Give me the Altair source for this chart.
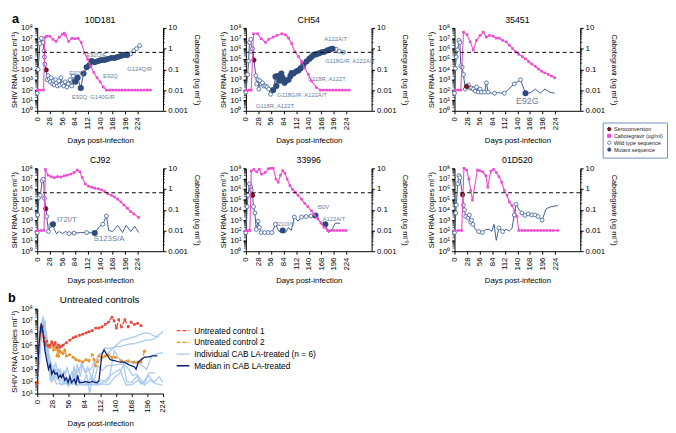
import altair as alt
import pandas as pd

FONT = "Liberation Sans"
MAG = "#ec4bd0"
NAVY_LINE = "#3f5d8e"
WT_STROKE = "#4a6aa5"
MUT_FILL = "#2f4a7c"
SERO = "#8c1515"
ANN_COL = "#6b7f9c"

# ---------------- panel a data (log10 copies/ml, log10 ug/ml) ----------------
XT_A = [0, 28, 56, 84, 112, 140, 168, 196, 224]
THRESH = [0.664]
MINOR_MULT = [2, 3, 4, 5, 6, 7, 8, 9]

D_10D181 = [0, 2, 6, 9, 13, 15, 16, 17, 20, 22, 24, 27, 29, 31, 34, 36, 38, 41, 43, 45, 48, 50, 53, 56, 59,
            62, 66, 69, 73, 77, 80, 85, 90, 97, 103, 110, 116, 121, 128, 136, 143, 150, 157, 165, 172, 179,
            186, 193, 200, 208, 215, 221, 228]
L_10D181 = [1.7, 4.0, 6.5, 7.0, 6.6, 5.8, 5.2, 4.5, 3.95, 3.0, 3.4, 3.1, 2.8, 3.2, 2.6, 2.9, 2.5, 3.0, 2.7,
            2.4, 2.9, 2.5, 3.2, 2.6, 2.4, 2.8, 2.3, 2.6, 3.0, 2.4, 3.35, 2.8, 3.2, 2.2, 3.6, 4.2, 4.4, 4.8,
            4.7, 4.8, 4.9, 4.9, 5.0, 5.1, 5.1, 5.2, 5.3, 5.4, 5.4, 5.5, 5.8, 6.0, 6.3]
M_10D181 = "oooooooo" + "s" + "oooooooooooooooooooooo" + "mmmmmmmmmmmmmmmmmm" + "oooo"
CD_10D181 = [0, 7, 14, 17, 21, 28, 35, 42, 49, 56, 60, 63, 70, 77, 84, 91, 98, 105, 112, 119, 126, 133,
             140, 147, 154, 161, 168, 175, 182, 189, 196, 203, 210, 217, 224, 231, 238, 245, 252]
CL_10D181 = [-2, -2, -2, 0.55, 0.6, 0.6, 0.45, 0.35, 0.55, 0.7, 0.75, 0.65, 0.35, 0.5, 0.48, 0.5, 0.3,
             -0.2, -0.5, -0.85, -1.15, -1.4, -1.6, -1.85, -2, -2, -2, -2, -2, -2, -2, -2, -2, -2, -2, -2,
             -2, -2, -2]
AT_10D181 = ["E92Q/E", "E92Q", "E92Q", "E92Q, G140G/R", "G124Q/R"]
AD_10D181 = [132, 88, 163, 125, 228]
AL_10D181 = [5.35, 3.6, 3.4, 1.35, 4.0]

D_CH54 = [0, 4, 6, 8, 11, 13, 15, 18, 22, 24, 27, 29, 31, 34, 37, 40, 44, 47, 51, 55, 61, 66, 68, 71, 75,
          79, 82, 86, 90, 95, 99, 102, 106, 112, 117, 122, 128, 135, 141, 146, 151, 157, 163, 169, 175,
          182, 188, 193, 201, 208, 217]
L_CH54 = [1.8, 3.5, 4.8, 6.6, 6.9, 5.7, 6.0, 4.9, 3.4, 2.6, 3.0, 2.1, 2.9, 2.6, 2.7, 2.4, 2.4, 2.3, 2.1,
          1.6, 2.0, 3.3, 2.4, 3.35, 2.9, 3.6, 3.2, 2.7, 2.9, 3.0, 3.35, 3.65, 3.6, 3.8, 3.9, 4.1, 4.45,
          4.75, 5.0, 5.2, 5.4, 5.45, 5.55, 5.65, 5.7, 5.85, 5.95, 6.0, 5.95, 5.75, 5.65]
M_CH54 = "ooooooo" + "s" + "oooooooooooo" + "mmmmmmmmmmmmmmmmmmmmmmmmmmmm" + "ooo"
CD_CH54 = [0, 7, 12, 17, 26, 34, 44, 51, 61, 69, 80, 88, 95, 102, 109, 117, 124, 131, 139, 146, 157, 166,
           173, 180, 187, 194, 201, 208, 215, 222, 230]
CL_CH54 = [-2, -2, -2, 0.72, 0.72, 0.48, 0.3, 0.45, 0.56, 0.64, 0.72, 0.67, 0.51, 0.25, -0.15, -0.38,
           -0.62, -0.93, -1.24, -1.56, -1.87, -2, -2, -2, -2, -2, -2, -2, -2, -2, -2]
AT_CH54 = ["A122A/T", "G118G/R, A122A/T", "G118R, A122T", "G118G/R, A122A/T", "G118R, A122T"]
AD_CH54 = [200, 232, 180, 125, 65]
AL_CH54 = [6.9, 4.8, 3.1, 1.5, 0.45]

D_35451 = [0, 2, 4, 7, 10, 12, 14, 17, 20, 24, 27, 31, 35, 38, 42, 46, 49, 53, 57, 60, 67, 71, 75, 82,
           89, 96, 111, 133, 147, 158, 169, 180, 191, 201, 212, 223]
L_35451 = [1.7, 4.1, 5.2, 5.9, 6.8, 6.6, 4.35, 4.2, 3.5, 2.1, 2.35, 2.5, 2.2, 2.2, 2.1, 1.9, 2.3, 1.8,
           2.1, 1.8, 1.8, 2.7, 1.8, 1.7, 1.7, 1.75, 1.7, 2.6, 3.0, 1.7, 1.75, 2.1, 1.7, 2.1, 1.8, 1.7]
M_35451 = "oooooooooo" + "s" + "oooooooooooo" + "-o-ooom" + "------"
CD_35451 = [0, 7, 14, 20, 28, 35, 42, 49, 57, 64, 71, 78, 86, 93, 100, 107, 115, 122, 129, 136, 143, 151,
            158, 165, 172, 180, 187, 194, 201, 209, 216, 223]
CL_35451 = [-2, -2, -2, 0.8, 0.67, 0.33, -0.07, 0.4, 0.64, 0.8, 0.56, 0.64, 0.6, 0.51, 0.51, 0.4, 0.33,
            0.17, 0.01, -0.15, -0.27, -0.38, -0.49, -0.62, -0.74, -0.85, -0.98, -1.09, -1.17, -1.24,
            -1.32, -1.4]
AT_35451 = ["E92G"]
AD_35451 = [162]
AL_35451 = [0.95]

D_CJ92 = [0, 1, 4, 7, 11, 14, 16, 19, 21, 25, 30, 35, 38, 43, 49, 56, 63, 71, 82, 96, 110, 128, 139, 146,
          154, 159, 168, 179, 190, 198, 208, 217, 226]
L_CJ92 = [1.8, 3.5, 5.2, 5.4, 6.8, 6.95, 5.1, 4.1, 3.35, 1.9, 2.5, 2.6, 2.1, 1.7, 1.9, 1.7, 1.9, 1.7,
          1.75, 1.8, 1.8, 1.75, 2.4, 2.6, 3.4, 2.0, 1.9, 2.5, 1.8, 2.5, 1.9, 2.4, 1.8]
M_CJ92 = "ooooooo" + "s" + "ooo" + "m" + "-----" + "oo-om-oo" + "--------"
CD_CJ92 = [0, 9, 15, 18, 24, 31, 38, 45, 53, 60, 67, 74, 82, 89, 95, 100, 107, 114, 121, 128, 136, 143,
           150, 157, 165, 172, 179, 186, 193, 201, 208, 215, 226]
CL_CJ92 = [-2, -2, -2, 0.95, 0.67, 0.6, 0.55, 0.6, 0.58, 0.64, 0.67, 0.72, 0.8, 0.92, 0.83, 0.56, 0.25,
           0.14, 0.09, 0.04, 0.01, -0.04, -0.11, -0.22, -0.3, -0.38, -0.49, -0.62, -0.77, -0.93, -1.09,
           -1.2, -1.37]
AT_CJ92 = ["I72I/T", "S123S/A"]
AD_CJ92 = [66, 160]
AL_CJ92 = [3.0, 1.2]

D_33996 = [0, 3, 5, 8, 11, 12, 15, 17, 20, 23, 27, 30, 34, 42, 50, 58, 66, 74, 82, 88, 95, 101, 108,
           116, 124, 134, 145, 155, 163, 170, 177, 184, 192, 199, 210]
L_33996 = [1.8, 4.3, 5.4, 6.5, 6.2, 5.9, 5.4, 4.3, 3.7, 2.1, 2.9, 2.3, 1.8, 1.8, 1.8, 1.8, 2.6, 1.9, 2.0,
           1.8, 2.3, 2.0, 3.3, 2.9, 3.3, 3.35, 3.4, 3.45, 3.0, 2.5, 2.6, 1.8, 2.1, 2.7, 2.7]
M_33996 = "oooooo" + "s" + "oooooooooo" + "-m---o-ooom--m" + "----"
CD_33996 = [0, 5, 9, 12, 18, 24, 30, 35, 43, 50, 55, 61, 67, 72, 77, 82, 87, 92, 98, 104, 110, 116, 124,
            131, 138, 146, 152, 160, 167, 174, 182, 189, 196, 203, 210, 217, 223]
CL_33996 = [-2, -2, -2, 0.87, 0.95, 0.83, 0.95, 0.72, 0.8, 0.98, 1.0, 1.0, 0.48, 0.33, 0.67, 0.89, 0.76,
            0.48, 0.17, -0.02, -0.15, -0.3, -0.49, -0.69, -0.85, -1.05, -1.24, -1.43, -1.64, -1.84, -2,
            -2, -2, -2, -2, -2, -2]
AT_33996 = ["I210I/V", "I50V", "A122A/T"]
AD_33996 = [88, 172, 196]
AL_33996 = [2.6, 4.3, 3.1]

D_01D520 = [0, 3, 4, 7, 10, 12, 18, 20, 22, 25, 30, 33, 36, 38, 41, 45, 49, 54, 62, 70, 78, 83, 88, 93,
            99, 107, 115, 122, 128, 133, 137, 144, 150, 157, 164, 172, 179, 186, 195, 204, 215, 230]
L_01D520 = [1.8, 3.7, 4.45, 6.5, 7.3, 7.1, 5.45, 4.45, 4.0, 3.35, 3.2, 3.5, 2.8, 3.0, 2.6, 2.25, 2.0,
            1.9, 1.8, 2.1, 2.1, 1.9, 2.6, 1.05, 2.25, 1.9, 2.1, 1.95, 2.2, 3.5, 4.55, 4.0, 3.7, 3.45,
            3.6, 3.5, 3.5, 3.35, 3.0, 4.1, 4.3, 4.4]
M_01D520 = "oooooo" + "s" + "oooooooo" + "--oo-----oo---oo-ooooooo" + "---"
CD_01D520 = [0, 9, 16, 21, 27, 32, 36, 40, 51, 56, 63, 70, 74, 81, 87, 93, 99, 105, 111, 117, 122, 128,
             134, 139, 143, 150, 157, 164, 171, 178, 185, 192, 199, 206, 213, 220, 230]
CL_01D520 = [-2, -2, -2, 1.0, 0.92, 0.48, -0.07, -0.54, 0.92, 0.89, 0.83, 0.64, 0.09, 0.87, 0.95, 0.8,
             0.6, 0.33, -0.07, -0.3, -0.62, -0.8, -1.05, -1.32, -2, -2, -2, -2, -2, -2, -2, -2, -2, -2,
             -2, -2, -2]

LEG_A = ["Seroconversion", "Cabotegravir (ug/ml)", "Wild type sequence", "Mutant sequence"]
LEG_A_FILL = [SERO, MAG, "white", MUT_FILL]
LEG_A_STROKE = ["#2a0505", MAG, WT_STROKE, MUT_FILL]
LEG_A_SHAPE = ["circle", "square", "circle", "circle"]

# ---------------- panel b data ----------------
XT_B = [0, 28, 56, 84, 112, 140, 168, 196, 224]
BR_D = [0, 3, 6, 9, 12, 14, 17, 20, 23, 26, 29, 32, 35, 38, 40, 43, 46, 52, 58, 64, 69, 75, 81, 87, 92,
        98, 104, 110, 115, 121, 127, 133, 137, 141, 145, 150, 156, 162, 167, 173, 179, 185]
BR_L = [1.85, 5.0, 6.1, 6.5, 5.6, 5.0, 5.3, 4.9, 5.0, 5.2, 5.0, 5.2, 4.8, 5.0, 4.8, 4.9, 5.0, 5.2, 5.4,
        5.6, 5.7, 5.8, 5.9, 6.0, 6.1, 6.2, 6.4, 6.4, 6.5, 6.7, 6.9, 7.3, 7.0, 6.4, 7.1, 6.5, 7.1, 6.5,
        6.9, 6.7, 6.8, 6.6]
BO_D = [0, 1, 6, 9, 12, 15, 20, 23, 26, 29, 32, 35, 37, 38, 40, 43, 46, 49, 52, 58, 64, 69, 75, 81, 87,
        92, 98, 101, 104, 107, 110, 115, 121, 127, 133, 139, 150, 162, 173, 179, 185, 191]
BO_L = [2.0, 3.5, 6.4, 6.1, 5.3, 5.0, 5.0, 4.8, 5.3, 4.6, 5.0, 4.1, 4.6, 4.1, 4.5, 4.4, 4.3, 4.6, 4.1,
        4.2, 4.0, 3.8, 3.7, 3.6, 3.8, 3.7, 4.2, 3.8, 3.3, 3.6, 4.1, 4.0, 4.1, 4.2, 4.0, 4.0, 3.7, 3.7,
        3.6, 3.6, 3.6, 4.5]
BM_D = [0, 3, 7, 10, 14, 17, 20, 23, 26, 29, 32, 35, 38, 41, 43, 46, 49, 52, 55, 58, 61, 66, 69, 72, 75,
        81, 87, 92, 98, 104, 107, 110, 115, 119, 124, 130, 139, 147, 156, 162, 167, 173, 176, 180, 185,
        191, 196, 205, 214]
BM_L = [1.8, 5.0, 6.8, 6.1, 4.5, 3.7, 3.0, 3.4, 2.6, 2.9, 2.6, 2.7, 2.3, 2.5, 2.3, 2.6, 2.1, 2.3, 1.9,
        2.4, 1.9, 2.2, 1.8, 2.5, 1.9, 1.9, 2.0, 1.9, 2.0, 1.9, 1.9, 2.1, 4.2, 4.6, 4.2, 3.8, 3.7, 3.6,
        3.6, 3.4, 3.3, 3.2, 3.0, 3.6, 3.8, 4.0, 4.0, 4.1, 4.1]
LEG_B = ["Untreated control 1", "Untreated control 2", "Individual CAB LA-treated (n = 6)",
         "Median in CAB LA-treated"]
LEG_B_COL = ["#e8463f", "#e8932b", "#a9c9ee", "#0b1f72"]

# ---------------- helpers ----------------
SUP = "['\u2070','\u00b9','\u00b2','\u00b3','\u2074','\u2075','\u2076','\u2077','\u2078']"
LABEL_EXPR = "'10' + " + SUP + "[round(log(datum.value) / LN10)]"
W, H = 129, 85


def minor_values(lo_exp, hi_exp):
    return [m * 10.0 ** k for k in range(lo_exp, hi_exp) for m in MINOR_MULT]


def x_enc(dmax, values):
    return alt.X("day:Q", scale=alt.Scale(domain=[0, dmax], nice=False, zero=False),
                 axis=alt.Axis(values=values, labelAngle=-90, title="Days post-infection",
                               titleFontSize=8, labelFontSize=8, tickSize=3, labelPadding=3,
                               titlePadding=7))


XA = x_enc(280, XT_A)
YV = alt.Y("v:Q", scale=alt.Scale(type="log", domain=[1, 1e8], nice=False),
           axis=alt.Axis(orient="left", values=[10 ** i for i in range(9)], labelExpr=LABEL_EXPR,
                         title="SHIV RNA (copies ml\u207b\u00b9)", titleFontSize=7.5, labelFontSize=8,
                         tickSize=3, labelPadding=2, titlePadding=2))
YC = alt.Y("c:Q", scale=alt.Scale(type="log", domain=[0.001, 10], nice=False),
           axis=alt.Axis(orient="right", values=[0.001, 0.01, 0.1, 1, 10], format="~g",
                         title="Cabotegravir (ug ml\u207b\u00b9)", titleFontSize=7.5, labelFontSize=8,
                         tickSize=3, labelPadding=2, titlePadding=5))


def text_layer(txt, size, x, y, bold=False, align="center", baseline="middle"):
    return alt.Chart(pd.DataFrame({"t": [txt]})).mark_text(
        fontSize=size, fontWeight="bold" if bold else "normal", font=FONT, align=align,
        baseline=baseline, color="black").encode(text="t:N", x=alt.value(x), y=alt.value(y))


def minor_ticks(field, vals, yenc, x0, x1):
    return alt.Chart(pd.DataFrame({field: vals})).mark_rule(color="black", strokeWidth=0.7).encode(
        x=alt.value(x0), x2=alt.value(x1), y=yenc)


def panel(name, d, lv, mk, cd, cl, at=None, ad=None, al=None, ann_size=6, legend=False, tag=None):
    vdf = pd.DataFrame({"day": d, "v": [10 ** x for x in lv], "mk": list(mk)})
    cdf = pd.DataFrame({"day": cd, "c": [10 ** x for x in cl]})
    base = alt.Chart(vdf)
    vl = [
        minor_ticks("v", minor_values(0, 8), YV, -2, 0),
        base.mark_line(color=NAVY_LINE, strokeWidth=1).encode(x=XA, y=YV),
        base.transform_filter("datum.mk == 'o'").mark_point(
            shape="circle", filled=True, fill="white", stroke=WT_STROKE, strokeWidth=0.9, size=16,
            opacity=1).encode(x=XA, y=YV),
        base.transform_filter("datum.mk == 'm'").mark_point(
            shape="circle", filled=True, fill=MUT_FILL, stroke=MUT_FILL, size=18, opacity=1
        ).encode(x=XA, y=YV),
        base.transform_filter("datum.mk == 's'").mark_point(
            shape="circle", filled=True, fill=SERO, stroke="#2a0505", strokeWidth=0.6, size=20,
            opacity=1).encode(x=XA, y=YV),
        text_layer(name, 9, W / 2, -8),
    ]
    if at:
        adf = pd.DataFrame({"t": at, "day": ad, "v": [10 ** x for x in al]})
        vl.append(alt.Chart(adf).mark_text(fontSize=ann_size, color=ANN_COL, font=FONT).encode(
            x=XA, y=YV, text="t:N"))
    if legend:
        ldf = pd.DataFrame({"kind": LEG_A, "day": [None] * 4, "v": [None] * 4})
        lg = alt.Legend(orient="none", legendX=152, legendY=97, title=None, labelFontSize=5.5,
                        labelFont=FONT, symbolSize=12, rowPadding=-1, padding=4,
                        strokeColor="#6f8fbf", fillColor="white", symbolStrokeWidth=0.8,
                        labelOffset=2, labelColor="#222222")
        vl.append(alt.Chart(ldf).mark_point(filled=True, opacity=1, size=14).encode(
            x=XA, y=YV,
            fill=alt.Fill("kind:N", scale=alt.Scale(domain=LEG_A, range=LEG_A_FILL), legend=lg),
            stroke=alt.Stroke("kind:N", scale=alt.Scale(domain=LEG_A, range=LEG_A_STROKE), legend=lg),
            shape=alt.Shape("kind:N", scale=alt.Scale(domain=LEG_A, range=LEG_A_SHAPE), legend=lg)))
    if tag:
        vl.append(text_layer(tag, 13, -26, -15, bold=True, align="left", baseline="top"))
    cbase = alt.Chart(cdf)
    cb = [
        minor_ticks("c", minor_values(-3, 1), YC, W, W + 2),
        cbase.mark_line(color=MAG, strokeWidth=1.1).encode(x=XA, y=YC),
        cbase.mark_square(color=MAG, size=7, opacity=1).encode(x=XA, y=YC),
        alt.Chart(pd.DataFrame({"c": THRESH})).mark_rule(
            color="black", strokeDash=[4, 3], strokeWidth=1).encode(y=YC),
    ]
    return alt.layer(alt.layer(*vl), alt.layer(*cb)).resolve_scale(y="independent").properties(
        width=W, height=H)


p1 = panel("10D181", D_10D181, L_10D181, M_10D181, CD_10D181, CL_10D181,
           AT_10D181, AD_10D181, AL_10D181, tag="a")
p2 = panel("CH54", D_CH54, L_CH54, M_CH54, CD_CH54, CL_CH54, AT_CH54, AD_CH54, AL_CH54)
p3 = panel("35451", D_35451, L_35451, M_35451, CD_35451, CL_35451, AT_35451, AD_35451, AL_35451,
           ann_size=9, legend=True)
p4 = panel("CJ92", D_CJ92, L_CJ92, M_CJ92, CD_CJ92, CL_CJ92, AT_CJ92, AD_CJ92, AL_CJ92, ann_size=8)
p5 = panel("33996", D_33996, L_33996, M_33996, CD_33996, CL_33996, AT_33996, AD_33996, AL_33996)
p6 = panel("01D520", D_01D520, L_01D520, M_01D520, CD_01D520, CL_01D520)

# ---------------- panel b ----------------
XB = x_enc(224, XT_B)
YB = alt.Y("v:Q", scale=alt.Scale(type="log", domain=[10, 1e8], nice=False),
           axis=alt.Axis(values=[10 ** i for i in range(1, 9)], labelExpr=LABEL_EXPR,
                         title="SHIV RNA (copies ml\u207b\u00b9)", titleFontSize=8, labelFontSize=8,
                         tickSize=3, labelPadding=2, titlePadding=2))
LEGB = alt.Legend(orient="none", legendX=142, legendY=15, title=None, symbolType="stroke",
                  symbolSize=169, labelFontSize=8.5, labelFont=FONT, rowPadding=0, labelLimit=300,
                  labelOffset=4)
COLB = alt.Color("series:N", scale=alt.Scale(domain=LEG_B, range=LEG_B_COL), legend=LEGB)
DASHB = alt.StrokeDash("series:N", scale=alt.Scale(domain=LEG_B, range=[[4, 2], [4, 2], [1, 0], [1, 0]]),
                       legend=LEGB)
WIDB = alt.StrokeWidth("series:N", scale=alt.Scale(domain=LEG_B, range=[1.3, 1.3, 0.8, 2.6]),
                       legend=LEGB)

ind_frames = []
for aid, d, lv in [("10D181", D_10D181, L_10D181), ("CH54", D_CH54, L_CH54),
                   ("35451", D_35451, L_35451), ("CJ92", D_CJ92, L_CJ92),
                   ("33996", D_33996, L_33996), ("01D520", D_01D520, L_01D520)]:
    ind_frames.append(pd.DataFrame({"day": d, "v": [10 ** x for x in lv], "id": aid, "series": LEG_B[2]}))
ind_df = pd.concat(ind_frames, ignore_index=True)
c1_df = pd.DataFrame({"day": BR_D, "v": [10 ** x for x in BR_L], "series": LEG_B[0]})
c2_df = pd.DataFrame({"day": BO_D, "v": [10 ** x for x in BO_L], "series": LEG_B[1]})
md_df = pd.DataFrame({"day": BM_D, "v": [10 ** x for x in BM_L], "series": LEG_B[3]})

pb_layers = [
    minor_ticks("v", minor_values(1, 8), YB, -2, 0),
    alt.Chart(ind_df).mark_line(clip=True).encode(x=XB, y=YB, color=COLB, strokeDash=DASHB,
                                                  strokeWidth=WIDB, detail="id:N"),
    alt.Chart(c2_df).mark_line(clip=True).encode(x=XB, y=YB, color=COLB, strokeDash=DASHB,
                                                 strokeWidth=WIDB),
    alt.Chart(c2_df).mark_point(shape="circle", filled=True, color=LEG_B_COL[1], size=10,
                                opacity=1).encode(x=XB, y=YB),
    alt.Chart(c1_df).mark_line(clip=True).encode(x=XB, y=YB, color=COLB, strokeDash=DASHB,
                                                 strokeWidth=WIDB),
    alt.Chart(c1_df).mark_point(shape="square", filled=True, color=LEG_B_COL[0], size=7,
                                opacity=1).encode(x=XB, y=YB),
    alt.Chart(md_df).mark_line(clip=True).encode(x=XB, y=YB, color=COLB, strokeDash=DASHB,
                                                 strokeWidth=WIDB),
    text_layer("b", 13, -30, -17, bold=True, align="left", baseline="top"),
    text_layer("Untreated controls", 10, 64, -9),
]
pb = alt.layer(*pb_layers).properties(width=129, height=87)

IND = dict(color="independent", fill="independent", stroke="independent", shape="independent",
           strokeDash="independent", strokeWidth="independent")
chart = alt.concat(p1, p2, p3, p4, p5, p6, pb, columns=3, spacing={"row": 59, "column": 85},
                   bounds="flush").resolve_scale(**IND).properties(
    padding={"left": 0, "top": 0, "right": 0, "bottom": 0})

chart = chart.configure(font=FONT).configure_axis(
    labelFont=FONT, titleFont=FONT, titleFontWeight="normal", grid=False, domainColor="black",
    tickColor="black", labelColor="black", titleColor="black").configure_view(stroke=None)

chart.save("out.html", embed_options={"renderer": "svg", "actions": False})
